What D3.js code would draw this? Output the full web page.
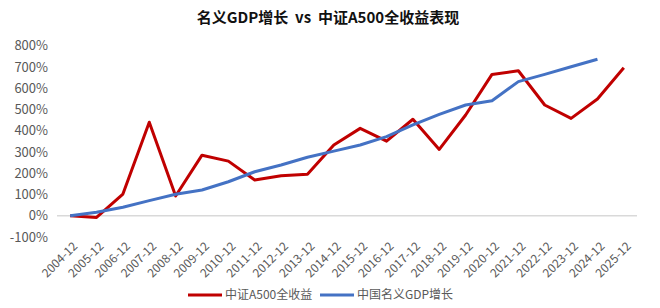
<!DOCTYPE html>
<html>
<head>
<meta charset="utf-8">
<script src="https://cdn.jsdelivr.net/npm/d3@7"></script>
<style>
  body { margin: 0; background: #fff; }
  text { font-family: "Noto Sans CJK SC", "Noto Sans", sans-serif; }
</style>
</head>
<body>
<svg id="chart" width="660" height="308"></svg>
<script>
const years = ["2004-12","2005-12","2006-12","2007-12","2008-12","2009-12","2010-12","2011-12",
  "2012-12","2013-12","2014-12","2015-12","2016-12","2017-12","2018-12","2019-12","2020-12",
  "2021-12","2022-12","2023-12","2024-12","2025-12"];

// 中证A500全收益 (%)
const a500 = [0, -8, 102, 440, 93, 285, 257, 168, 188, 195, 333, 411, 351, 454, 312, 474, 665, 682, 521, 458, 549, 696];

// 中国名义GDP增长 (%), no 2025 value
const gdp = [0, 16, 40, 71, 101, 121, 160, 207, 239, 275, 304, 333, 372, 427, 477, 521, 541, 631, 665, 701, 736, null];

const yTicks = [-100, 0, 100, 200, 300, 400, 500, 600, 700, 800];

const series = [
  { name: "中证A500全收益", values: a500, color: "#C00000" },
  { name: "中国名义GDP增长", values: gdp, color: "#4472C4" }
];

const svg = d3.select("#chart");

const x = d3.scaleBand()
    .domain(years)
    .range([57, 637]);

const y = d3.scaleLinear()
    .domain([-100, 800])
    .range([237, 45.7]);

// title
svg.append("text")
    .attr("x", 328)
    .attr("y", 23)
    .attr("text-anchor", "middle")
    .style("font-size", "15px")
    .style("font-weight", "bold")
    .style("fill", "#111")
    .style("white-space", "pre")
    .text("名义GDP增长  vs  中证A500全收益表现");

// y axis labels
svg.append("g")
    .selectAll("text")
    .data(yTicks)
    .enter().append("text")
      .attr("x", 48)
      .attr("y", d => y(d))
      .attr("dy", "0.35em")
      .attr("text-anchor", "end")
      .style("font-size", "13px")
      .style("fill", "#595959")
      .text(d => d + "%");

// zero line
svg.append("line")
    .attr("x1", 57).attr("x2", 637)
    .attr("y1", y(0)).attr("y2", y(0))
    .style("stroke", "#d9d9d9")
    .style("stroke-width", 1.5);

// x labels, rotated
svg.append("g")
    .selectAll("text")
    .data(years)
    .enter().append("text")
      .attr("transform", d => "translate(" + (x(d) + x.bandwidth() / 2 + 5) + "," + 244 + ") rotate(-45)")
      .attr("text-anchor", "end")
      .attr("dy", "0.35em")
      .style("font-size", "12px")
      .style("fill", "#595959")
      .text(d => d);

const line = d3.line()
    .defined(d => d != null)
    .x((d, i) => x(years[i]) + x.bandwidth() / 2)
    .y(d => y(d));

svg.append("g")
    .selectAll("path")
    .data(series)
    .enter().append("path")
      .attr("d", d => line(d.values))
      .style("fill", "none")
      .style("stroke", d => d.color)
      .style("stroke-width", 3)
      .style("stroke-linejoin", "round");

// legend
const legend = svg.append("g")
    .attr("transform", "translate(188,295)");

const items = legend.selectAll("g")
    .data(series)
    .enter().append("g")
      .attr("transform", (d, i) => "translate(" + (i === 0 ? 0 : 132) + ",0)");

items.append("line")
    .attr("x1", 0).attr("x2", 34)
    .attr("y1", 0).attr("y2", 0)
    .style("stroke", d => d.color)
    .style("stroke-width", 3);

items.append("text")
    .attr("x", 37)
    .attr("dy", "0.35em")
    .style("font-size", "12px")
    .style("fill", "#595959")
    .text(d => d.name);
</script>
</body>
</html>
